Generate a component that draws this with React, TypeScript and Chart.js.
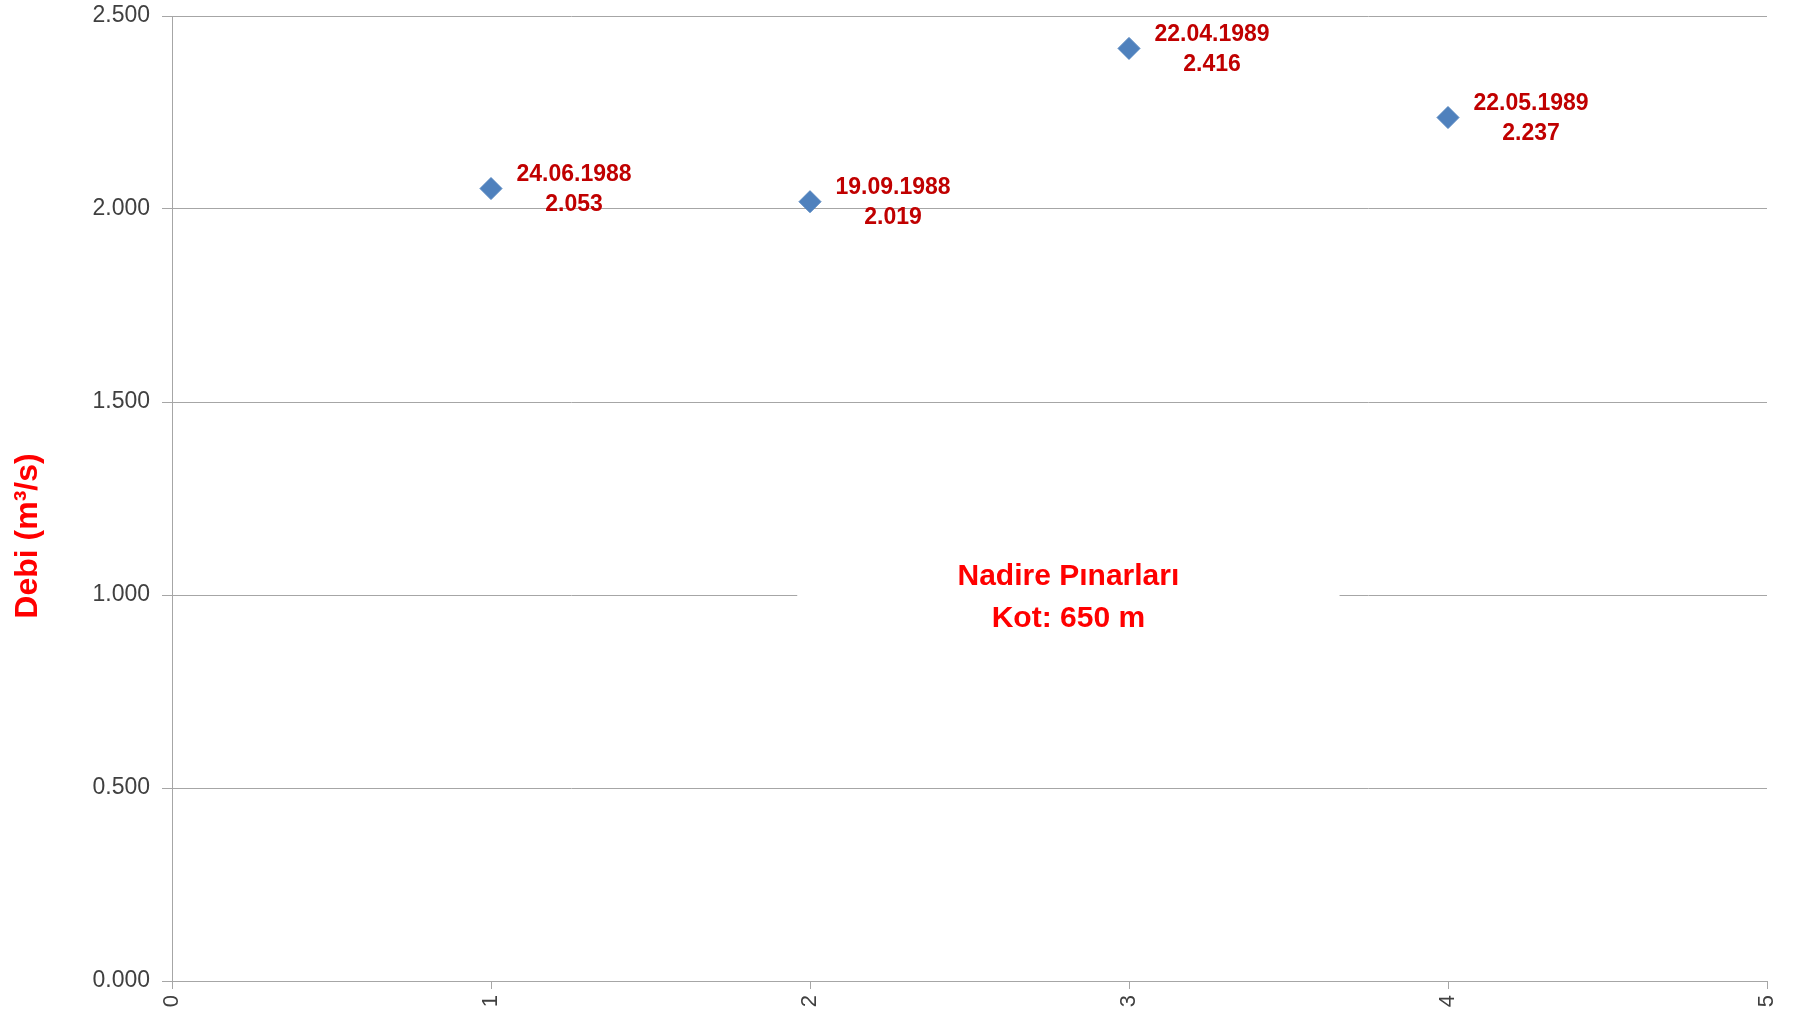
import React, { useEffect, useRef } from "react";
import { Chart, registerables } from "chart.js";

Chart.register(...registerables);

const xValues = [1, 2, 3, 4];
const debiValues = [2.053, 2.019, 2.416, 2.237];
const dateLabels = ["24.06.1988", "19.09.1988", "22.04.1989", "22.05.1989"];
const annotationLines = ["Nadire Pınarları", "Kot: 650 m"];
const yTitle = "Debi (m³/s)";

const FONT = '"Liberation Sans", Arial, sans-serif';

const dataLabelPlugin = {
  id: "dataLabels",
  afterDatasetsDraw(chart: any) {
    const meta = chart.getDatasetMeta(0);
    const ctx = chart.ctx;
    ctx.save();
    ctx.font = `bold 23px ${FONT}`;
    ctx.fillStyle = "#C00000";
    ctx.textAlign = "center";
    ctx.textBaseline = "middle";
    meta.data.forEach((pt: any, i: number) => {
      const cx = pt.x + 83;
      ctx.fillText(dateLabels[i], cx, pt.y - 14);
      ctx.fillText(debiValues[i].toFixed(3), cx, pt.y + 16);
    });
    ctx.restore();
  },
};

const annotationPlugin = {
  id: "annotationBox",
  beforeDatasetsDraw(chart: any) {
    const ctx = chart.ctx;
    const xs = chart.scales.x;
    const ys = chart.scales.y;
    const left = xs.getPixelForValue(1.96);
    const right = xs.getPixelForValue(3.66);
    const top = ys.getPixelForValue(1.15);
    const bottom = ys.getPixelForValue(0.85);
    const cx = (left + right) / 2;
    ctx.save();
    ctx.fillStyle = "#FFFFFF";
    ctx.fillRect(left, top, right - left, bottom - top);
    ctx.font = `bold 30px ${FONT}`;
    ctx.fillStyle = "#FF0000";
    ctx.textAlign = "center";
    ctx.textBaseline = "alphabetic";
    const y0 = ys.getPixelForValue(1.0);
    ctx.fillText(annotationLines[0], cx, y0 - 10);
    ctx.fillText(annotationLines[1], cx, y0 + 32);
    ctx.restore();
  },
};

const yTitlePlugin = {
  id: "yTitle",
  afterDraw(chart: any) {
    const ctx = chart.ctx;
    ctx.save();
    ctx.translate(28, 536);
    ctx.rotate(-Math.PI / 2);
    ctx.font = `bold 32px ${FONT}`;
    ctx.fillStyle = "#FF0000";
    ctx.textAlign = "center";
    ctx.textBaseline = "middle";
    ctx.fillText(yTitle, 0, 0);
    ctx.restore();
  },
};

export default function App() {
  const canvasRef = useRef<HTMLCanvasElement | null>(null);

  useEffect(() => {
    document.body.style.margin = "0";
    const canvas = canvasRef.current;
    if (!canvas) return;
    const chart = new Chart(canvas, {
      type: "scatter",
      data: {
        datasets: [
          {
            label: "Debi",
            data: xValues.map((x, i) => ({ x, y: debiValues[i] })),
            showLine: false,
            pointStyle: "rectRot",
            pointRadius: 11,
            pointHoverRadius: 11,
            backgroundColor: "#4F81BD",
            borderColor: "#4F81BD",
            borderWidth: 1,
          },
        ],
      },
      options: {
        animation: false,
        responsive: true,
        maintainAspectRatio: false,
        layout: { padding: { top: 16, right: 26, left: 0, bottom: 0 } },
        plugins: {
          legend: { display: false },
          tooltip: { enabled: false },
        },
        scales: {
          x: {
            type: "linear",
            min: 0,
            max: 5,
            afterFit: (scale: any) => {
              scale.height = 34;
              scale.paddingLeft = 0;
              scale.paddingRight = 0;
              scale.paddingTop = 0;
              scale.paddingBottom = 0;
            },
            ticks: {
              stepSize: 1,
              minRotation: 90,
              maxRotation: 90,
              color: "#404040",
              font: { family: FONT, size: 22 },
              padding: 6,
            },
            grid: {
              drawOnChartArea: false,
              drawTicks: true,
              tickLength: 8,
              color: "#A6A6A6",
            },
            border: { color: "#A6A6A6", width: 1 },
          },
          y: {
            type: "linear",
            min: 0,
            max: 2.5,
            afterFit: (scale: any) => {
              scale.width = 172;
              scale.paddingLeft = 0;
              scale.paddingRight = 0;
              scale.paddingTop = 0;
              scale.paddingBottom = 0;
            },
            ticks: {
              stepSize: 0.5,
              color: "#404040",
              font: { family: FONT, size: 23 },
              padding: 12,
              callback: (v: any) => Number(v).toFixed(3),
            },
            grid: {
              color: "#A6A6A6",
              drawTicks: true,
              tickLength: 10,
            },
            border: { color: "#A6A6A6", width: 1 },
          },
        },
      },
      plugins: [annotationPlugin, dataLabelPlugin, yTitlePlugin],
    });
    return () => chart.destroy();
  }, []);

  return (
    <div style={{ position: "relative", width: 1793, height: 1015 }}>
      <canvas ref={canvasRef} />
    </div>
  );
}
